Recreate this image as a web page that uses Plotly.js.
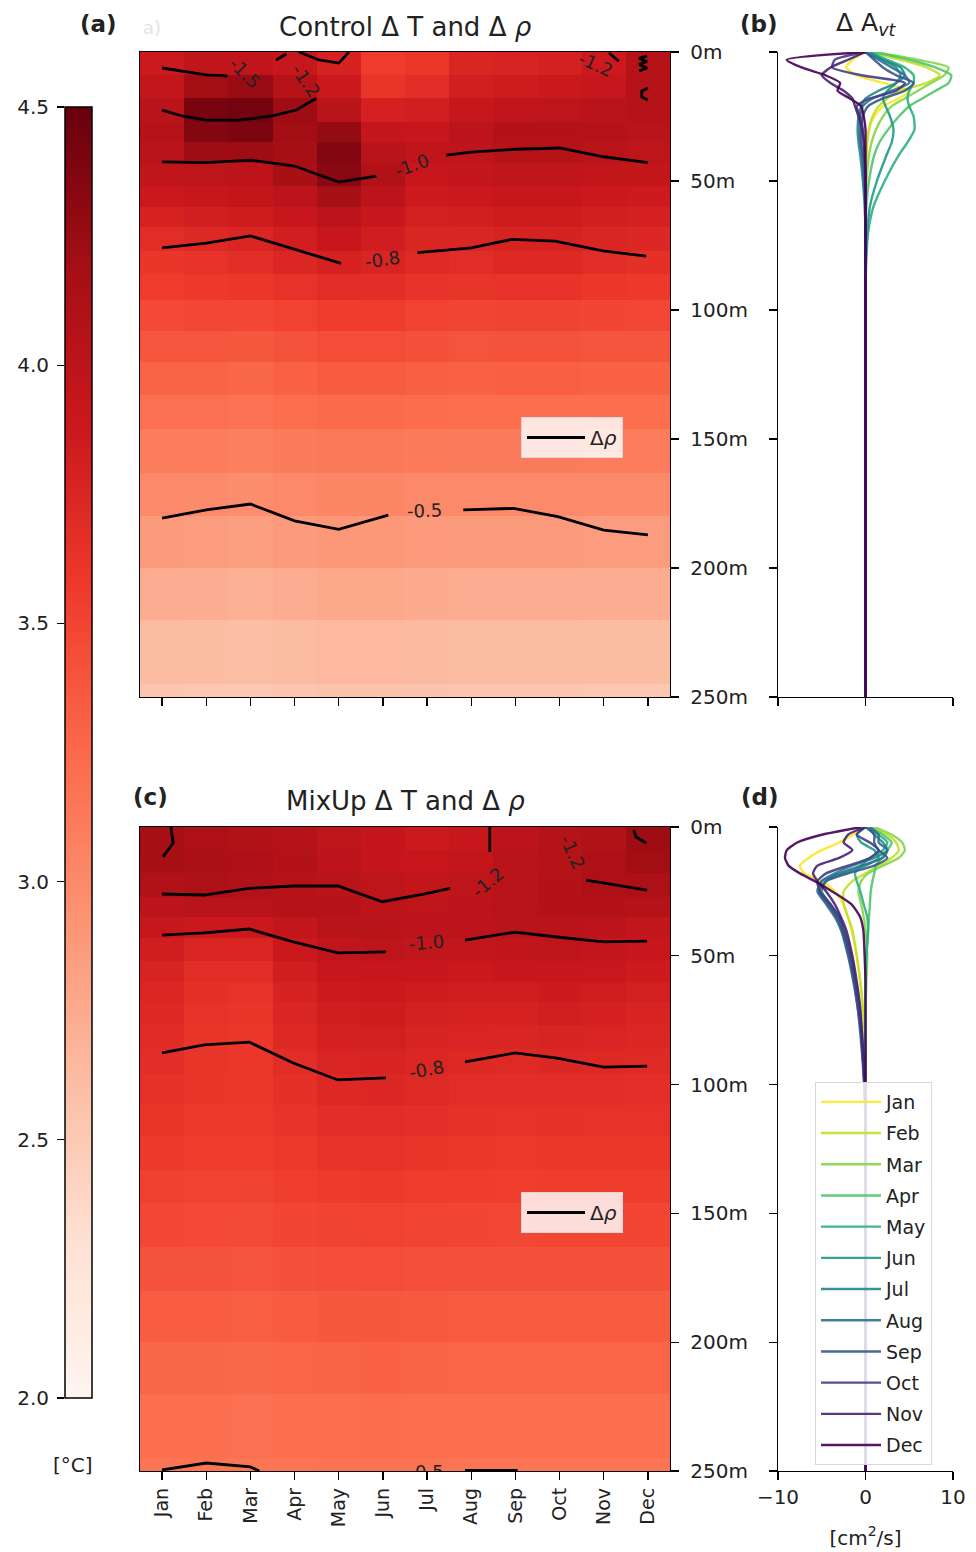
<!DOCTYPE html>
<html>
<head>
<meta charset="utf-8">
<script src="https://cdn.plot.ly/plotly-3.0.1.min.js"></script>
<style>html,body{margin:0;padding:0;background:#fff;}#chart{width:976px;height:1552px;}</style>
</head>
<body>
<div id="chart"></div>
<script>
// ---------- data ----------
const months = ['Jan','Feb','Mar','Apr','May','Jun','Jul','Aug','Sep','Oct','Nov','Dec'];
const monthIdx = months.map((_, i) => i);
const depthTicks = [0, 50, 100, 150, 200, 250];
const tempTicks = [2.0, 2.5, 3.0, 3.5, 4.0, 4.5];
const avtTicks = [-10, 0, 10];

// depth bin edges of the model levels [m]
const depthEdges = [0, 9, 18, 27, 35, 43, 52, 60, 68, 77, 86, 96, 108, 120, 133, 146, 163, 180, 200, 220, 245, 260];

// Control ΔT [°C], rows = depth bins, columns = months
const ctlT = [
 [3.87,3.97,3.97,3.92,3.78,3.56,3.60,3.75,3.77,3.80,3.87,4.05],
 [3.95,4.20,4.25,4.05,3.88,3.62,3.68,3.82,3.85,3.88,3.92,4.05],
 [4.02,4.42,4.44,4.22,4.02,3.80,3.82,3.92,3.97,3.98,4.02,4.06],
 [4.05,4.36,4.40,4.20,4.27,3.93,3.90,4.00,4.07,4.08,4.06,4.02],
 [4.03,4.22,4.22,4.18,4.36,4.03,3.97,3.98,4.05,4.05,4.02,3.98],
 [3.97,3.98,4.00,4.16,4.33,4.10,3.90,3.93,3.97,3.97,3.95,3.95],
 [3.88,3.90,3.94,4.00,4.17,4.00,3.86,3.88,3.90,3.90,3.88,3.86],
 [3.78,3.82,3.85,3.90,4.00,3.90,3.81,3.82,3.85,3.85,3.82,3.80],
 [3.69,3.72,3.75,3.82,3.90,3.83,3.75,3.75,3.78,3.78,3.75,3.73],
 [3.61,3.64,3.68,3.74,3.79,3.76,3.71,3.69,3.72,3.72,3.69,3.66],
 [3.56,3.58,3.60,3.64,3.69,3.68,3.63,3.62,3.63,3.63,3.60,3.58],
 [3.47,3.48,3.48,3.52,3.56,3.56,3.52,3.50,3.51,3.51,3.49,3.48],
 [3.38,3.38,3.37,3.41,3.45,3.45,3.42,3.40,3.41,3.41,3.39,3.39],
 [3.29,3.29,3.27,3.31,3.35,3.35,3.32,3.31,3.32,3.32,3.30,3.30],
 [3.20,3.20,3.18,3.21,3.25,3.25,3.23,3.22,3.22,3.22,3.21,3.21],
 [3.10,3.10,3.08,3.11,3.14,3.14,3.12,3.11,3.11,3.11,3.10,3.10],
 [3.00,2.99,2.97,3.00,3.03,3.03,3.01,3.00,3.00,3.00,2.99,2.99],
 [2.87,2.86,2.84,2.87,2.90,2.90,2.88,2.87,2.87,2.87,2.86,2.86],
 [2.74,2.73,2.71,2.74,2.77,2.77,2.75,2.74,2.74,2.74,2.73,2.73],
 [2.62,2.61,2.59,2.62,2.64,2.64,2.63,2.62,2.62,2.62,2.61,2.61],
 [2.54,2.53,2.52,2.54,2.56,2.56,2.55,2.54,2.54,2.54,2.53,2.53]
];

// MixUp ΔT [°C]
const mixT = [
 [4.19,4.12,4.10,4.05,3.98,3.93,3.87,3.92,4.00,4.05,4.10,4.22],
 [4.17,4.15,4.12,4.07,4.00,3.93,3.90,3.95,4.02,4.06,4.12,4.20],
 [4.10,4.12,4.10,4.06,4.03,3.98,3.95,3.98,4.03,4.08,4.12,4.12],
 [4.00,4.03,4.03,4.05,4.05,4.00,3.98,4.00,4.04,4.07,4.08,4.06],
 [3.92,3.88,3.88,3.95,4.02,4.02,4.00,4.00,4.02,4.03,4.00,3.96],
 [3.83,3.75,3.75,3.88,3.97,3.98,3.96,3.95,3.97,3.98,3.95,3.90],
 [3.77,3.69,3.69,3.83,3.90,3.92,3.90,3.88,3.90,3.91,3.89,3.86],
 [3.74,3.66,3.64,3.78,3.86,3.88,3.85,3.83,3.84,3.86,3.84,3.81],
 [3.72,3.64,3.62,3.75,3.83,3.85,3.81,3.79,3.79,3.82,3.80,3.77],
 [3.70,3.62,3.60,3.72,3.80,3.81,3.77,3.76,3.75,3.77,3.76,3.74],
 [3.68,3.62,3.60,3.69,3.76,3.77,3.74,3.72,3.71,3.73,3.72,3.71],
 [3.65,3.61,3.60,3.66,3.72,3.73,3.71,3.69,3.68,3.69,3.68,3.67],
 [3.62,3.59,3.58,3.63,3.68,3.69,3.67,3.65,3.64,3.65,3.64,3.64],
 [3.58,3.56,3.55,3.59,3.63,3.64,3.62,3.60,3.59,3.60,3.60,3.60],
 [3.53,3.52,3.51,3.54,3.57,3.58,3.56,3.55,3.54,3.55,3.55,3.55],
 [3.48,3.47,3.46,3.49,3.51,3.52,3.50,3.49,3.48,3.49,3.49,3.49],
 [3.41,3.41,3.40,3.42,3.44,3.45,3.43,3.42,3.42,3.42,3.42,3.42],
 [3.34,3.34,3.33,3.35,3.37,3.37,3.36,3.35,3.35,3.35,3.35,3.35],
 [3.27,3.27,3.26,3.28,3.29,3.30,3.29,3.28,3.28,3.28,3.28,3.28],
 [3.21,3.21,3.20,3.21,3.22,3.23,3.22,3.21,3.21,3.21,3.21,3.21],
 [3.17,3.17,3.16,3.17,3.18,3.19,3.18,3.17,3.17,3.17,3.17,3.17]
];

// Δρ isolines (month position, depth [m]); null separates pieces / label gaps
const ctlRho15M = [0, 0.45, 1, 1.48];
const ctlRho15D = [6.2, 7.4, 8.9, 9.3];
const ctlRho12M = [0, 0.45, 1, 1.75, 2.5, 3.04, 3.49, null, 2.58, 2.81, null, 3.1, 3.55, 4.0, 4.23, null, 10.12, 10.34, null, 10.98, 10.8, 10.98, 10.8, 10.98, 10.8, null, 11.0, 10.86, 10.86, 11.0];
const ctlRho12D = [22.5, 24.8, 26.4, 26.4, 24.8, 22.5, 17.9, null, 3.1, 0.8, null, 0, 3.1, 4.3, 0, null, 0.4, 3.6, null, 1.5, 2.5, 3.7, 4.8, 6.2, 7.3, null, 14, 15.2, 17.4, 18.6];
const ctlRho10M = [0, 1, 2, 3, 4, 4.85, null, 6.43, 7, 8, 9, 10, 11];
const ctlRho10D = [42.6, 42.9, 41.9, 44.2, 50.4, 48.1, null, 40, 38.8, 37.7, 37.2, 40.6, 42.9];
const ctlRho08M = [0, 1, 2, 3, 4.05, null, 5.78, 7, 7.92, 8.9, 9.98, 10.96];
const ctlRho08D = [75.9, 74.1, 71.3, 76.5, 81.9, null, 77.8, 75.9, 72.6, 73.3, 77.1, 79.1];
const ctlRho05M = [0, 1, 2, 3, 4, 5.12, null, 6.82, 7.96, 8.96, 10, 11];
const ctlRho05D = [180.7, 177.5, 175.2, 181.7, 185, 179.5, null, 177.5, 176.9, 180.1, 185.3, 187.2];

const mixRho15M = [0.2, 0.25, 0.02, null, 10.68, 10.73, 10.96];
const mixRho15D = [0, 6.2, 11.6, null, 1.2, 3.9, 6.2];
const mixRho12M = [0, 0.95, 1.97, 2.97, 3.98, 4.99, 5.95, 6.52, null, 7.42, 7.42, null, 9.6, 10, 10.98];
const mixRho12D = [26, 26.4, 23.8, 22.9, 22.9, 29, 26, 23.8, null, 9.7, 0, null, 20.6, 21.7, 24.5];
const mixRho10M = [0, 0.95, 1.97, 2.97, 3.98, 5.07, null, 6.86, 7.99, 8.94, 10, 10.98];
const mixRho10D = [42, 41.1, 39.6, 44.6, 48.9, 48.5, null, 43.9, 40.8, 42.7, 44.6, 44.3];
const mixRho08M = [0, 0.95, 1.97, 2.97, 3.98, 5.07, null, 6.86, 7.99, 8.94, 10, 10.98];
const mixRho08D = [87.7, 84.6, 83.5, 91.6, 98.2, 97.4, null, 91.2, 87.7, 89.7, 93.2, 92.8];
const mixRho05M = [0, 1, 2, 2.2, null, 6.86, 8.05];
const mixRho05D = [249.6, 246.9, 248.4, 250, null, 249.8, 249.8];

// contour labels
const ctlLabelText = ['-1.5', '-1.2', '-1.2', '-1.0', '-0.8', '-0.5'];
const ctlLabelM = [1.86, 3.26, 9.82, 5.64, 4.98, 5.95];
const ctlLabelD = [8.1, 10.9, 5.0, 43.8, 80.4, 177.9];
const ctlLabelAngle = [45, 55, 24, -20, -8, -2];
const mixLabelText = ['-1.2', '-1.2', '-1.0', '-0.8'];
const mixLabelM = [7.36, 9.30, 5.98, 5.98];
const mixLabelD = [21.4, 9.8, 45, 94];
const mixLabelAngle = [-40, 65, -5, -10];
const mixEdgeLabelText = ['-0.5'];
const mixEdgeLabelM = [5.98];
const mixEdgeLabelD = [251];

// Δ A_vt profiles [cm²/s]
const avtDepth = [0, 3, 6, 9, 12, 15, 18, 21, 25, 30, 35, 40, 50, 60, 70, 80, 95, 110, 150, 250];
const ctlAvt = [
 [0, -1.5, -2.2, -1.0, 2.0, 5.0, 3.8, 2.0, 1.0, 0.4, 0.2, 0.1, 0, 0, 0, 0, 0, 0, 0, 0],
 [0.5, 4.0, 7.0, 8.5, 7.0, 4.0, 2.5, 1.5, 0.8, 0.4, 0.2, 0.1, 0, 0, 0, 0, 0, 0, 0, 0],
 [1.0, 6.0, 9.5, 9.0, 7.5, 6.0, 4.5, 3.0, 2.0, 1.2, 0.7, 0.4, 0.1, 0, 0, 0, 0, 0, 0, 0],
 [1.0, 5.0, 8.0, 9.8, 9.5, 8.0, 6.5, 5.0, 3.8, 2.6, 1.6, 1.0, 0.4, 0.1, 0, 0, 0, 0, 0, 0],
 [0.5, 2.5, 4.5, 5.5, 5.5, 5.0, 4.8, 5.0, 5.5, 5.6, 4.8, 3.8, 2.2, 0.9, 0.3, 0.1, 0, 0, 0, 0],
 [0.5, 2.0, 3.5, 4.0, 3.5, 2.5, 2.0, 2.3, 2.8, 3.2, 3.0, 2.4, 1.3, 0.5, 0.2, 0.05, 0, 0, 0, 0],
 [0, 2.0, 4.0, 4.5, 3.5, 1.5, 0, -0.5, -0.8, -0.9, -0.8, -0.6, -0.3, -0.1, 0, 0, 0, 0, 0, 0],
 [0, 1.5, 3.0, 4.5, 5.0, 3.0, 0.8, -0.3, -0.6, -0.7, -0.6, -0.4, -0.2, 0, 0, 0, 0, 0, 0, 0],
 [0, 1.0, 2.0, 3.5, 5.5, 4.5, 2.0, 0.3, -0.3, -0.5, -0.5, -0.3, -0.1, 0, 0, 0, 0, 0, 0, 0],
 [0, -3.5, -3.8, -0.5, 4.5, 3.5, 0.5, -1.0, -0.6, -0.3, -0.2, -0.1, 0, 0, 0, 0, 0, 0, 0, 0],
 [0, -2.0, -4.0, -5.0, -4.0, -2.5, -1.5, -1.2, -0.8, -0.4, -0.2, -0.1, 0, 0, 0, 0, 0, 0, 0, 0],
 [0, -9.0, -7.3, -4.6, -2.9, -3.2, -1.8, -0.5, -0.2, 0, 0, 0, 0, 0, 0, 0, 0, 0, 0, 0]
];
const mixAvt = [
 [0, -1.5, -3.0, -5.0, -6.5, -7.5, -7.0, -5.0, -3.5, -2.5, -2.0, -1.6, -1.0, -0.6, -0.3, -0.1, 0, 0, 0, 0],
 [0.5, 2.5, 3.5, 3.8, 3.0, 1.5, 0, -1.5, -2.5, -2.5, -2.0, -1.5, -1.0, -0.6, -0.3, -0.1, 0, 0, 0, 0],
 [1.0, 3.0, 4.2, 4.5, 3.8, 2.0, 0.3, -0.5, -0.8, -0.5, -0.2, 0, 0.2, 0.1, 0, 0, 0, 0, 0, 0],
 [0.5, 2.0, 3.0, 2.5, 1.8, 1.2, 1.0, 0.8, 0.6, 0.5, 0.4, 0.3, 0.1, 0, 0, 0, 0, 0, 0, 0],
 [0, 1.5, 2.5, 2.0, 0.5, -0.5, -1.2, -1.0, -0.6, -0.2, 0.2, 0.3, 0.1, 0, 0, 0, 0, 0, 0, 0],
 [0, -1.0, -0.5, 1.0, 1.5, 0, -2.5, -4.5, -5.0, -4.0, -3.0, -2.4, -1.6, -1.1, -0.7, -0.4, -0.1, 0, 0, 0],
 [0.5, 1.0, 2.0, 2.5, 1.0, -1.5, -3.5, -5.0, -5.3, -4.2, -3.2, -2.6, -1.8, -1.2, -0.8, -0.5, -0.2, 0, 0, 0],
 [0.5, 1.5, 1.5, 2.5, 2.0, -0.5, -3.0, -5.0, -5.5, -4.5, -3.5, -2.8, -2.0, -1.4, -0.9, -0.6, -0.25, -0.05, 0, 0],
 [0, 1.0, 1.0, 1.5, 2.5, 1.0, -2.0, -4.5, -5.3, -4.3, -3.3, -2.7, -1.9, -1.3, -0.9, -0.5, -0.2, 0, 0, 0],
 [0, -1.0, 0.5, 1.5, 0.5, -2.0, -4.5, -5.5, -5.2, -4.0, -3.0, -2.5, -1.7, -1.2, -0.8, -0.5, -0.2, 0, 0, 0],
 [0, -2.0, -2.5, -1.5, -3.0, -5.5, -6.0, -5.5, -4.5, -3.5, -2.8, -2.2, -1.5, -1.0, -0.6, -0.4, -0.15, 0, 0, 0],
 [-0.5, -5.0, -7.8, -9.0, -9.2, -8.8, -7.5, -5.8, -3.8, -1.6, -0.6, -0.25, -0.1, 0, 0, 0, 0, 0, 0, 0]
];
const monthColors = ['#fde725','#c2df23','#86d549','#52c569','#2ab07f','#1e9b8a','#25858e','#2d708e','#38588c','#433e85','#482173','#440154'];

// ---------- styling ----------
const W = 976, H = 1552;
const FONT = 'DejaVu Sans, sans-serif';
const TXT = '#222';
const px = v => v / W;
const py = v => 1 - v / H;
const redsScale = [[0,'#fff5f0'],[0.125,'#fee0d2'],[0.25,'#fcbba1'],[0.375,'#fc9272'],[0.5,'#fb6a4a'],[0.625,'#ef3b2c'],[0.75,'#cb181d'],[0.875,'#a50f15'],[1,'#67000d']];

const traces = [];
function heat(z, xa, ya) {
  traces.push({type:'heatmap', x: monthIdx, y: depthEdges, z: z, coloraxis:'coloraxis',
    xaxis: xa, yaxis: ya, zsmooth: false, hoverinfo:'skip'});
}
heat(ctlT, 'x', 'y');
heat(mixT, 'x3', 'y3');

function rho(listM, listD, xa, ya, legendName) {
  listM.forEach((m, i) => {
    traces.push({type:'scatter', mode:'lines', x: m, y: listD[i], xaxis: xa, yaxis: ya,
      line:{color:'black', width:2.8}, connectgaps:false, hoverinfo:'skip',
      name:'Δ<i>ρ</i>', legend: legendName, showlegend: i === 0});
  });
}
rho([ctlRho10M, ctlRho15M, ctlRho12M, ctlRho08M, ctlRho05M],
    [ctlRho10D, ctlRho15D, ctlRho12D, ctlRho08D, ctlRho05D], 'x', 'y', 'legend');
rho([mixRho10M, mixRho15M, mixRho12M, mixRho08M, mixRho05M],
    [mixRho10D, mixRho15D, mixRho12D, mixRho08D, mixRho05D], 'x3', 'y3', 'legend2');

traces.push({type:'scatter', mode:'text', x: mixEdgeLabelM, y: mixEdgeLabelD, text: mixEdgeLabelText,
  textfont:{family:FONT, size:18, color:TXT}, xaxis:'x3', yaxis:'y3', showlegend:false, hoverinfo:'skip', cliponaxis:true});

ctlAvt.forEach((vals, i) => traces.push({type:'scatter', mode:'lines', x: vals, y: avtDepth,
  xaxis:'x2', yaxis:'y2', name: months[i], showlegend:false, opacity:0.9,
  line:{color: monthColors[i], width:2.4, shape:'spline', smoothing:0.6}}));
mixAvt.forEach((vals, i) => traces.push({type:'scatter', mode:'lines', x: vals, y: avtDepth,
  xaxis:'x4', yaxis:'y4', name: months[i], legend:'legend3', legendgroup: months[i], showlegend:true, opacity:0.9,
  line:{color: monthColors[i], width:2.4, shape:'spline', smoothing:0.6}}));

// empty trace for the colour-scale axis
traces.push({type:'scatter', x:[], y:[], xaxis:'x5', yaxis:'y5', showlegend:false});

const tickFont = {family: FONT, size: 19, color: TXT};
const depthFont = {family: FONT, size: 20, color: TXT};
const lineAx = {showline:true, linecolor:'black', linewidth:1.3, ticks:'outside', ticklen:8, tickwidth:1.3,
  tickcolor:'black', showgrid:false, zeroline:false, tickfont: tickFont};

const heatX = [px(140), px(670)];
const profX = [px(778), px(953)];
const topY = [py(697), py(52)];
const botY = [py(1471), py(827)];

const depthAxis = (dom, anchor, side, labels) => Object.assign({}, lineAx, {
  domain: dom, anchor: anchor, range:[250, 0], autorange:false, side: side,
  tickvals: depthTicks, ticktext: depthTicks.map(d => d + 'm'), showticklabels: labels,
  tickfont: depthFont, ticklabelstandoff: 7, mirror: side === 'right'});

const annotations = [];
function note(text, x, y, size, opts) {
  annotations.push(Object.assign({text:text, x:px(x), y:py(y), xref:'paper', yref:'paper', showarrow:false,
    xanchor:'center', yanchor:'middle', font:{family:FONT, size:size, color:TXT}}, opts || {}));
}
note('<b>(a)</b>', 98, 24, 23);
note('a)', 152, 27, 18, {font:{family:FONT, size:18, color:'#e4e4e4'}});
note('Control Δ T and Δ <i>ρ</i>', 405, 27, 26);
note('<b>(b)</b>', 759, 24, 23);
note('Δ A<sub><i>vt</i></sub>', 866, 24, 25);
note('<b>(c)</b>', 150, 797, 23);
note('MixUp Δ T and Δ <i>ρ</i>', 405, 801, 26);
note('<b>(d)</b>', 760, 797, 23);
note('[°C]', 73, 1465, 20);

function contourLabels(texts, ms, ds, angles, xr, yr) {
  texts.forEach((t, i) => annotations.push({text:t, x: ms[i], y: ds[i], xref:xr, yref:yr, showarrow:false,
    textangle: angles[i], font:{family:FONT, size:18, color:TXT}, xanchor:'center', yanchor:'middle'}));
}
contourLabels(ctlLabelText, ctlLabelM, ctlLabelD, ctlLabelAngle, 'x', 'y');
contourLabels(mixLabelText, mixLabelM, mixLabelD, mixLabelAngle, 'x3', 'y3');

const rhoLegend = {bgcolor:'rgba(255,255,255,0.82)', bordercolor:'#d8d8d8', borderwidth:1,
  font:{family:FONT, size:20, color:TXT}, xanchor:'left', yanchor:'top', itemwidth:58};

const layout = {
  width: W, height: H, margin:{l:0, r:0, t:0, b:0}, paper_bgcolor:'white', plot_bgcolor:'white',
  font:{family:FONT, color:TXT},
  coloraxis:{cmin:2, cmax:4.5, colorscale: redsScale, colorbar:{x:px(65), xanchor:'left', xpad:0,
    y:py(107), yanchor:'top', ypad:0, len:1291, lenmode:'pixels', thickness:27, thicknessmode:'pixels',
    outlinecolor:'black', outlinewidth:1.5, showticklabels:false, ticks:''}},
  xaxis: Object.assign({}, lineAx, {domain: heatX, anchor:'y', range:[-0.5, 11.5], autorange:false,
    tickvals: monthIdx, ticktext: months, showticklabels:false, mirror:true}),
  yaxis: depthAxis(topY, 'x', 'right', true),
  xaxis2: Object.assign({}, lineAx, {domain: profX, anchor:'y2', range:[-10, 10], autorange:false,
    tickvals: avtTicks, showticklabels:false}),
  yaxis2: depthAxis(topY, 'x2', 'left', false),
  xaxis3: Object.assign({}, lineAx, {domain: heatX, anchor:'y3', range:[-0.5, 11.5], autorange:false,
    tickvals: monthIdx, ticktext: months, tickangle:-90, mirror:true}),
  yaxis3: depthAxis(botY, 'x3', 'right', true),
  xaxis4: Object.assign({}, lineAx, {domain: profX, anchor:'y4', range:[-10, 10], autorange:false,
    tickvals: avtTicks, ticktext: avtTicks.map(v => v < 0 ? '−' + Math.abs(v) : String(v)),
    tickfont: depthFont,
    title:{text:'[cm<sup>2</sup>/s]', font:{family:FONT, size:20, color:TXT}, standoff:22}}),
  yaxis4: depthAxis(botY, 'x4', 'left', false),
  xaxis5: {domain:[px(65), px(92)], anchor:'y5', visible:false, range:[0,1]},
  yaxis5: {domain:[py(1398), py(107)], anchor:'x5', range:[2, 4.5], autorange:false, side:'left',
    tickvals: tempTicks, ticktext: tempTicks.map(v => v.toFixed(1)), ticks:'outside', ticklen:7,
    tickwidth:1.3, tickcolor:'black', showline:false, showgrid:false, zeroline:false, tickfont: depthFont,
    ticklabelstandoff: 4},
  legend: Object.assign({}, rhoLegend, {x: px(521), y: py(417)}),
  legend2: Object.assign({}, rhoLegend, {x: px(521), y: py(1192)}),
  legend3: {x: px(815), y: py(1082), xanchor:'left', yanchor:'top', bgcolor:'rgba(255,255,255,0.85)',
    bordercolor:'#d8d8d8', borderwidth:1, font:{family:FONT, size:19, color:TXT},
    traceorder:'grouped', tracegroupgap:3.5, itemwidth:60},
  annotations: annotations,
  showlegend: true
};

Plotly.newPlot('chart', traces, layout, {displayModeBar:false, staticPlot:true});
</script>
</body>
</html>
